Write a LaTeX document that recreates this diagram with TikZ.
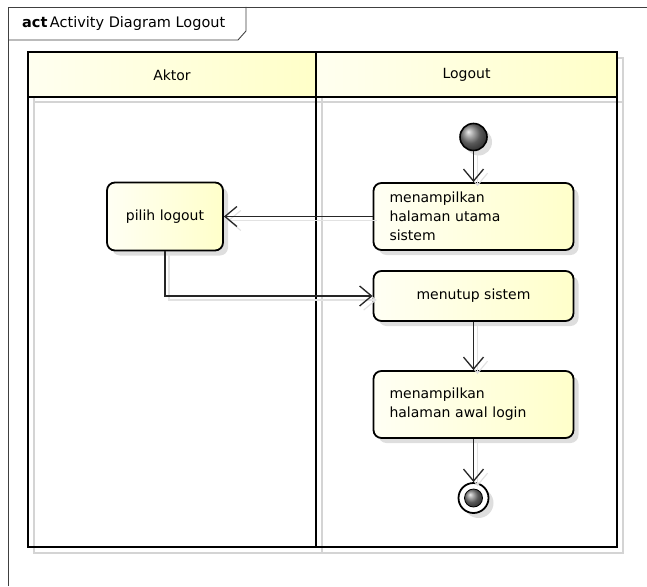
\documentclass[tikz,border=0pt]{standalone}
\usepackage{fontspec}
\setmainfont{DejaVu Sans}
\usetikzlibrary{arrows.meta,shadows,shapes.geometric}
\definecolor{nodeL}{RGB}{255,255,244}
\definecolor{nodeR}{RGB}{255,255,202}
\definecolor{headL}{RGB}{255,255,240}
\definecolor{headR}{RGB}{255,255,200}
\definecolor{ghostc}{RGB}{226,226,226}
\definecolor{laneg}{RGB}{212,212,212}
\begin{document}
\begin{tikzpicture}[x=1pt,y=-1pt,
  txt/.style={font=\fontsize{14}{19}\selectfont},
  act/.style={draw=black, line width=1.8pt, rounded corners=8pt,
    left color=nodeL, right color=nodeR,
    drop shadow={shadow xshift=5pt,shadow yshift=-5pt,fill=black,opacity=0.13},
    inner sep=0pt, txt},
  flow/.style={draw=black!85, line width=1.3pt,
    -{Straight Barb[length=12pt,width=20pt,line width=1.3pt]}},
  ghost/.style={draw=ghostc, line width=1.1pt,
    -{Straight Barb[length=12pt,width=20pt,line width=1.1pt]},
    transform canvas={xshift=4pt,yshift=-4pt}},
  lane/.style={draw=black, line width=2.2pt},
  laneghost/.style={draw=laneg, line width=1.6pt},
]
\useasboundingbox (0,0) rectangle (647,586);
\fill[white] (0,0) rectangle (647,586);

% frame
\draw[black!75, line width=0.9pt] (8,586) -- (8,7) -- (647,7);
\draw[black!75, line width=0.9pt] (8,40) -- (238,40) -- (246,31) -- (246,7);
\node[font=\fontsize{14.5}{19}\selectfont, anchor=west, inner sep=0pt] (title) at (22,24) {\textbf{act}\,Activity Diagram Logout};

% swimlane shadows
\draw[laneghost] (34,58) rectangle (623,553);
\draw[laneghost] (322,58) -- (322,553);
\draw[laneghost] (34,102) -- (623,102);

% headers
\shade[left color=headL, right color=headR] (28,52) rectangle (316,97);
\shade[left color=headL, right color=headR] (316,52) rectangle (617,97);
\node[txt] (h1) at (172,75) {Aktor};
\node[txt] (h2) at (466.5,75) {Logout};

% swimlane lines
\draw[lane] (28,52) rectangle (617,547);
\draw[lane] (316,52) -- (316,547);
\draw[lane] (28,97) -- (617,97);

% nodes
\node[circle, minimum size=27pt, inner sep=0pt, draw=black, line width=1.6pt,
      ball color=black!50, drop shadow={shadow xshift=5pt,shadow yshift=-5pt,fill=black,opacity=0.13}] (init) at (473.5,137) {};
\node[act, minimum width=200pt, minimum height=67pt, text width=168pt, align=left] (a1) at (473.5,216.5)
  {menampilkan\\halaman utama\\sistem};
\node[act, minimum width=116pt, minimum height=68pt, align=center] (pl) at (165,216.5) {pilih logout};
\node[act, minimum width=200pt, minimum height=50pt, align=center] (a2) at (473.5,296) {menutup sistem};
\node[act, minimum width=200pt, minimum height=67pt, text width=168pt, align=left] (a3) at (473.5,404.5)
  {menampilkan\\halaman awal login};
\node[circle, minimum size=30pt, inner sep=0pt, draw=black, line width=1.8pt, fill=white,
      drop shadow={shadow xshift=5pt,shadow yshift=-5pt,fill=black,opacity=0.13}] (fin) at (473.5,498) {};
\node[circle, minimum size=18pt, inner sep=0pt, draw=black, line width=0.8pt, ball color=black!50] (finc) at (fin) {};

% connector shadows
\draw[ghost] (init) -- (a1);
\draw[ghost] (a1.west) -- (pl.east);
\draw[ghost] (pl.south) |- (a2.west);
\draw[ghost] (a2) -- (a3);
\draw[ghost] (a3) -- (fin);

% connectors
\draw[flow] (init) -- (a1);
\draw[flow] (a1.west) -- (pl.east);
\draw[flow] (pl.south) |- (a2.west);
\draw[flow] (a2) -- (a3);
\draw[flow] (a3) -- (fin);
\end{tikzpicture}
\end{document}
